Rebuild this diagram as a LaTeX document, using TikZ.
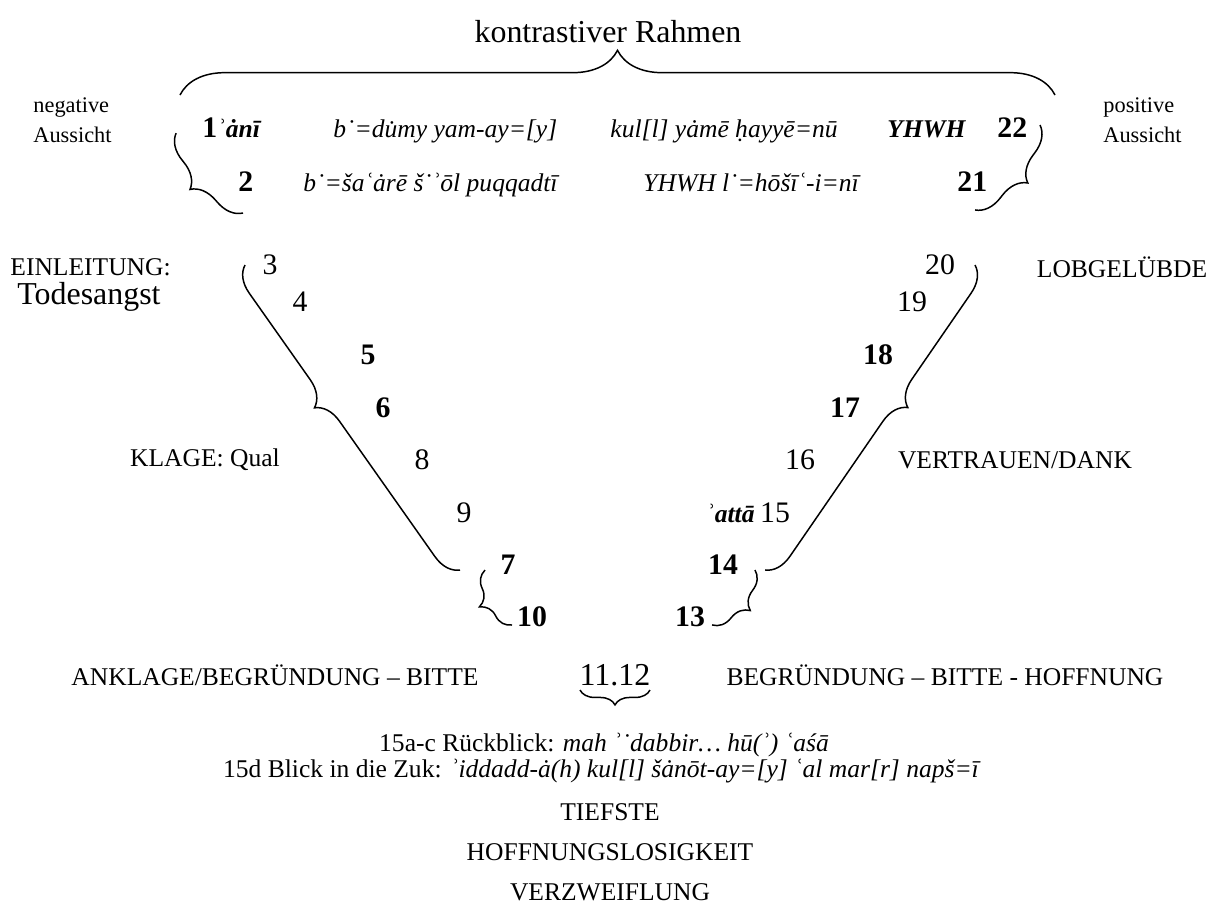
\documentclass[tikz,border=0pt]{standalone}
\usepackage{fontspec}
\setmainfont{Liberation Serif}
\usetikzlibrary{decorations.pathreplacing}
\begin{document}
\begin{tikzpicture}[x=0.47pt, y=-0.47pt, inner sep=0pt,
  brc/.style={decorate, decoration={brace, amplitude=#1}, line width=0.7pt},
  num/.style={font=\fontsize{14}{16}\selectfont},
  bnum/.style={font=\fontsize{14}{16}\selectfont\bfseries},
  lbl/.style={font=\fontsize{12}{14}\selectfont},
  trl/.style={font=\fontsize{12}{14}\selectfont\itshape}]
  \useasboundingbox (0,0) rectangle (1214,919);
  % frame on top
  \node[font=\fontsize{15}{18}\selectfont] (title) at (608,32) {kontrastiver Rahmen};
  \coordinate (fl) at (180,95);
  \coordinate (fr) at (1055,95);
  \draw[brc=21pt] (fl) -- (fr);
  \node[anchor=west, align=left, font=\fontsize{10.5}{14}\selectfont] (neg) at (33,120) {negative\\Aussicht};
  \node[anchor=west, align=left, font=\fontsize{10.5}{14}\selectfont] (pos) at (1103,120) {positive\\Aussicht};
  % verses 1, 2, 21, 22
  \node[anchor=base west, bnum] (v1) at (202,137) {1\fontsize{12}{14}\selectfont\itshape ʾȧnī};
  \node[anchor=base west, trl] (t1a) at (333,137) {b˙=du̇my yam-ay=[y]};
  \node[anchor=base west, trl] (t1b) at (610,137) {kul[l] yȧmē ḥayyē=nū};
  \node[anchor=base west, trl, font=\fontsize{12}{14}\selectfont\bfseries\itshape] (t1c) at (887,137) {YHWH};
  \node[anchor=base west, bnum] (v22) at (997,137) {22};
  \node[anchor=base west, bnum] (v2) at (238,191) {2};
  \node[anchor=base west, trl] (t2a) at (303,191) {b˙=šaʿȧrē š˙ʾōl puqqadtī};
  \node[anchor=base west, trl] (t2b) at (643,191) {YHWH l˙=hōšīʿ-i=nī};
  \node[anchor=base west, bnum] (v21) at (957,191) {21};
  \coordinate (a1) at (176,133);
  \coordinate (a2) at (243,213);
  \draw[brc=12pt] (a2) -- (a1);
  \coordinate (b1) at (1040,125);
  \coordinate (b2) at (975,210);
  \draw[brc=12pt] (b1) -- (b2);
  % left side
  \node[anchor=west, lbl] (einl) at (10,267) {EINLEITUNG:};
  \node[anchor=west, font=\fontsize{15}{18}\selectfont] (tod) at (17,297) {Todesangst};
  \node[num] (v3) at (270,265) {3};
  \node[num] (v4) at (300,302) {4};
  \node[bnum] (v5) at (368,355) {5};
  \node[bnum] (v6) at (383,408) {6};
  \node[num] (v8) at (422,460) {8};
  \node[num] (v9) at (464,513) {9};
  \node[lbl] (klage) at (205,460) {KLAGE: Qual};
  \coordinate (c1) at (245,265);
  \coordinate (c2) at (460,570);
  \draw[brc=12pt, decoration={aspect=0.58}] (c2) -- (c1);
  % right side
  \node[lbl] (lob) at (1122,267) {LOBGELÜBDE};
  \node[num] (v20) at (940,265) {20};
  \node[num] (v19) at (912,302) {19};
  \node[bnum] (v18) at (878,355) {18};
  \node[bnum] (v17) at (845,408) {17};
  \node[num] (v16) at (800,460) {16};
  \node[num] (v15) at (775,513) {15};
  \node[anchor=east, font=\fontsize{12}{14}\selectfont\bfseries\itshape] (atta) at (755,513) {ʾattā};
  \node[lbl] (vert) at (1015,460) {VERTRAUEN/DANK};
  \coordinate (d1) at (975,265);
  \coordinate (d2) at (765,570);
  \draw[brc=12pt, decoration={aspect=0.42}] (d1) -- (d2);
  % bottom
  \node[bnum] (v7) at (508,565) {7};
  \node[bnum] (v10) at (532,617) {10};
  \node[bnum] (v14) at (723,565) {14};
  \node[bnum] (v13) at (690,617) {13};
  \coordinate (e1) at (485,570);
  \coordinate (e2) at (512,625);
  \draw[brc=10pt] (e2) -- (e1);
  \coordinate (f1) at (755,570);
  \coordinate (f2) at (712,625);
  \draw[brc=10pt] (f1) -- (f2);
  \node[lbl] (ankl) at (275,675) {ANKLAGE/BEGRÜNDUNG – BITTE};
  \node[font=\fontsize{15}{18}\selectfont] (v11) at (615,675) {11.12};
  \node[lbl] (begr) at (945,675) {BEGRÜNDUNG – BITTE - HOFFNUNG};
  \coordinate (g1) at (580,690);
  \coordinate (g2) at (650,690);
  \draw[brc=7pt] (g2) -- (g1);
  \node[lbl] (rb) at (604,745) {15a-c Rückblick: \textit{mah ʾ˙dabbir… hū(ʾ) ʿaśā}};
  \node[lbl] (bz) at (602,771) {15d Blick in die Zuk: \textit{ʾiddadd-ȧ(h) kul[l] šȧnōt-ay=[y] ʿal mar[r] napš=ī}};
  \node[lbl] (tief) at (610,812) {TIEFSTE};
  \node[lbl] (hoff) at (610,852) {HOFFNUNGSLOSIGKEIT};
  \node[lbl] (verz) at (610,892) {VERZWEIFLUNG};
\end{tikzpicture}
\end{document}
